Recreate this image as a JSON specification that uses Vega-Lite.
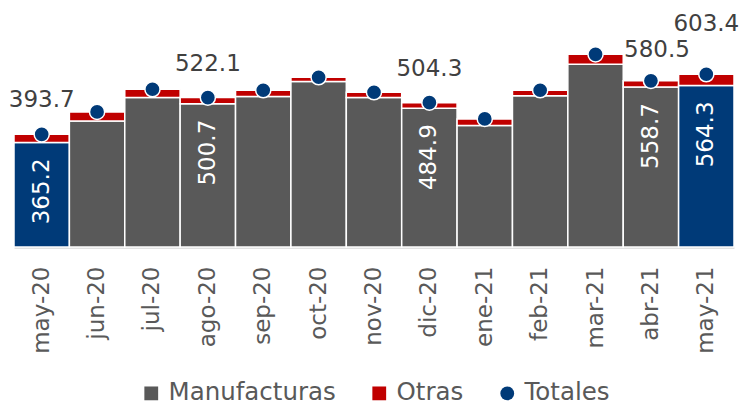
{
  "$schema": "https://vega.github.io/schema/vega-lite/v6.json",
  "width": 720,
  "height": 229,
  "padding": {"left": 8, "top": 13, "right": 0, "bottom": 0},
  "background": "white",
  "config": {
    "view": {"stroke": null},
    "font": "DejaVu Sans",
    "legend": {"layout": {"bottom": {"anchor": "middle"}}}
  },
  "data": {
    "values": [
      {"mes": "may-20", "Manufacturas": 365.2, "Otras": 28.5, "Totales": 393.7},
      {"mes": "jun-20", "Manufacturas": 440.5, "Otras": 31.5, "Totales": 472.0},
      {"mes": "jul-20", "Manufacturas": 522.0, "Otras": 29.0, "Totales": 551.0},
      {"mes": "ago-20", "Manufacturas": 500.7, "Otras": 21.4, "Totales": 522.1},
      {"mes": "sep-20", "Manufacturas": 526.0, "Otras": 21.5, "Totales": 547.5},
      {"mes": "oct-20", "Manufacturas": 578.0, "Otras": 15.0, "Totales": 593.0},
      {"mes": "nov-20", "Manufacturas": 522.0, "Otras": 18.5, "Totales": 540.5},
      {"mes": "dic-20", "Manufacturas": 484.9, "Otras": 19.4, "Totales": 504.3},
      {"mes": "ene-21", "Manufacturas": 424.5, "Otras": 23.0, "Totales": 447.5},
      {"mes": "feb-21", "Manufacturas": 528.0, "Otras": 19.5, "Totales": 547.5},
      {"mes": "mar-21", "Manufacturas": 638.0, "Otras": 35.0, "Totales": 673.0},
      {"mes": "abr-21", "Manufacturas": 558.7, "Otras": 21.8, "Totales": 580.5},
      {"mes": "may-21", "Manufacturas": 564.3, "Otras": 39.1, "Totales": 603.4}
    ]
  },
  "encoding": {
    "x": {
      "field": "mes",
      "type": "nominal",
      "sort": null,
      "scale": {"paddingInner": 0, "paddingOuter": 0},
      "axis": {
        "title": null,
        "labelAngle": -90,
        "labelAlign": "right",
        "labelBaseline": "middle",
        "labelFontSize": 23,
        "labelFont": "DejaVu Sans",
        "labelColor": "#595959",
        "labelPadding": 19,
        "ticks": false,
        "domainColor": "#D9D9D9",
        "domainWidth": 2.5
      }
    }
  },
  "layer": [
    {
      "transform": [{"fold": ["Manufacturas", "Otras"], "as": ["serie", "valor"]}],
      "mark": {"type": "bar", "stroke": "white", "strokeWidth": 1.5},
      "encoding": {
        "y": {
          "field": "valor",
          "type": "quantitative",
          "stack": "zero",
          "scale": {"domain": [0, 800]},
          "axis": null
        },
        "color": {
          "condition": {
            "test": "datum.serie === 'Manufacturas' && (datum.mes === 'may-20' || datum.mes === 'may-21')",
            "value": "#003A78"
          },
          "field": "serie",
          "type": "nominal",
          "scale": {
            "domain": ["Manufacturas", "Otras", "Totales"],
            "range": ["#595959", "#C00000", "#003A78"]
          },
          "legend": {
            "title": null,
            "orient": "bottom",
            "direction": "horizontal",
            "labelFontSize": 24.5,
            "labelFont": "DejaVu Sans",
            "labelColor": "#595959",
            "labelLimit": 0,
            "symbolSize": 190,
            "symbolStrokeWidth": 0,
            "labelOffset": 5,
            "columnPadding": 31,
            "offset": 27
          }
        },
        "order": {"field": "serie", "sort": "ascending"}
      }
    },
    {
      "transform": [{"fold": ["Totales"], "as": ["serie", "valor"]}],
      "mark": {
        "type": "point",
        "filled": true,
        "size": 230,
        "stroke": "white",
        "strokeWidth": 1.5,
        "opacity": 1
      },
      "encoding": {
        "y": {"field": "valor", "type": "quantitative"},
        "color": {"field": "serie", "type": "nominal"},
        "shape": {
          "field": "serie",
          "type": "nominal",
          "scale": {
            "domain": ["Manufacturas", "Otras", "Totales"],
            "range": ["square", "square", "circle"]
          }
        }
      }
    },
    {
      "transform": [
        {"filter": "indexof(['may-20','ago-20','dic-20'], datum.mes) >= 0"}
      ],
      "mark": {
        "type": "text",
        "fontSize": 23,
        "font": "DejaVu Sans",
        "color": "#404040",
        "baseline": "alphabetic",
        "dy": -27
      },
      "encoding": {
        "y": {"field": "Totales", "type": "quantitative"},
        "text": {"field": "Totales", "type": "quantitative", "format": ".1f"}
      }
    },
    {
      "transform": [{"filter": "datum.mes === 'abr-21'"}],
      "mark": {
        "type": "text",
        "fontSize": 23,
        "font": "DejaVu Sans",
        "color": "#404040",
        "baseline": "alphabetic",
        "dy": -24,
        "dx": 6
      },
      "encoding": {
        "y": {"field": "Totales", "type": "quantitative"},
        "text": {"field": "Totales", "type": "quantitative", "format": ".1f"}
      }
    },
    {
      "transform": [{"filter": "datum.mes === 'may-21'"}],
      "mark": {
        "type": "text",
        "fontSize": 23,
        "font": "DejaVu Sans",
        "color": "#404040",
        "baseline": "alphabetic",
        "dy": -43
      },
      "encoding": {
        "y": {"field": "Totales", "type": "quantitative"},
        "text": {"field": "Totales", "type": "quantitative", "format": ".1f"}
      }
    },
    {
      "transform": [
        {"filter": "indexof(['may-20','ago-20','dic-20','abr-21','may-21'], datum.mes) >= 0"}
      ],
      "mark": {
        "type": "text",
        "angle": 270,
        "align": "right",
        "baseline": "middle",
        "dx": -16,
        "fontSize": 23,
        "font": "DejaVu Sans",
        "color": "white"
      },
      "encoding": {
        "y": {"field": "Manufacturas", "type": "quantitative"},
        "text": {"field": "Manufacturas", "type": "quantitative", "format": ".1f"}
      }
    }
  ]
}
